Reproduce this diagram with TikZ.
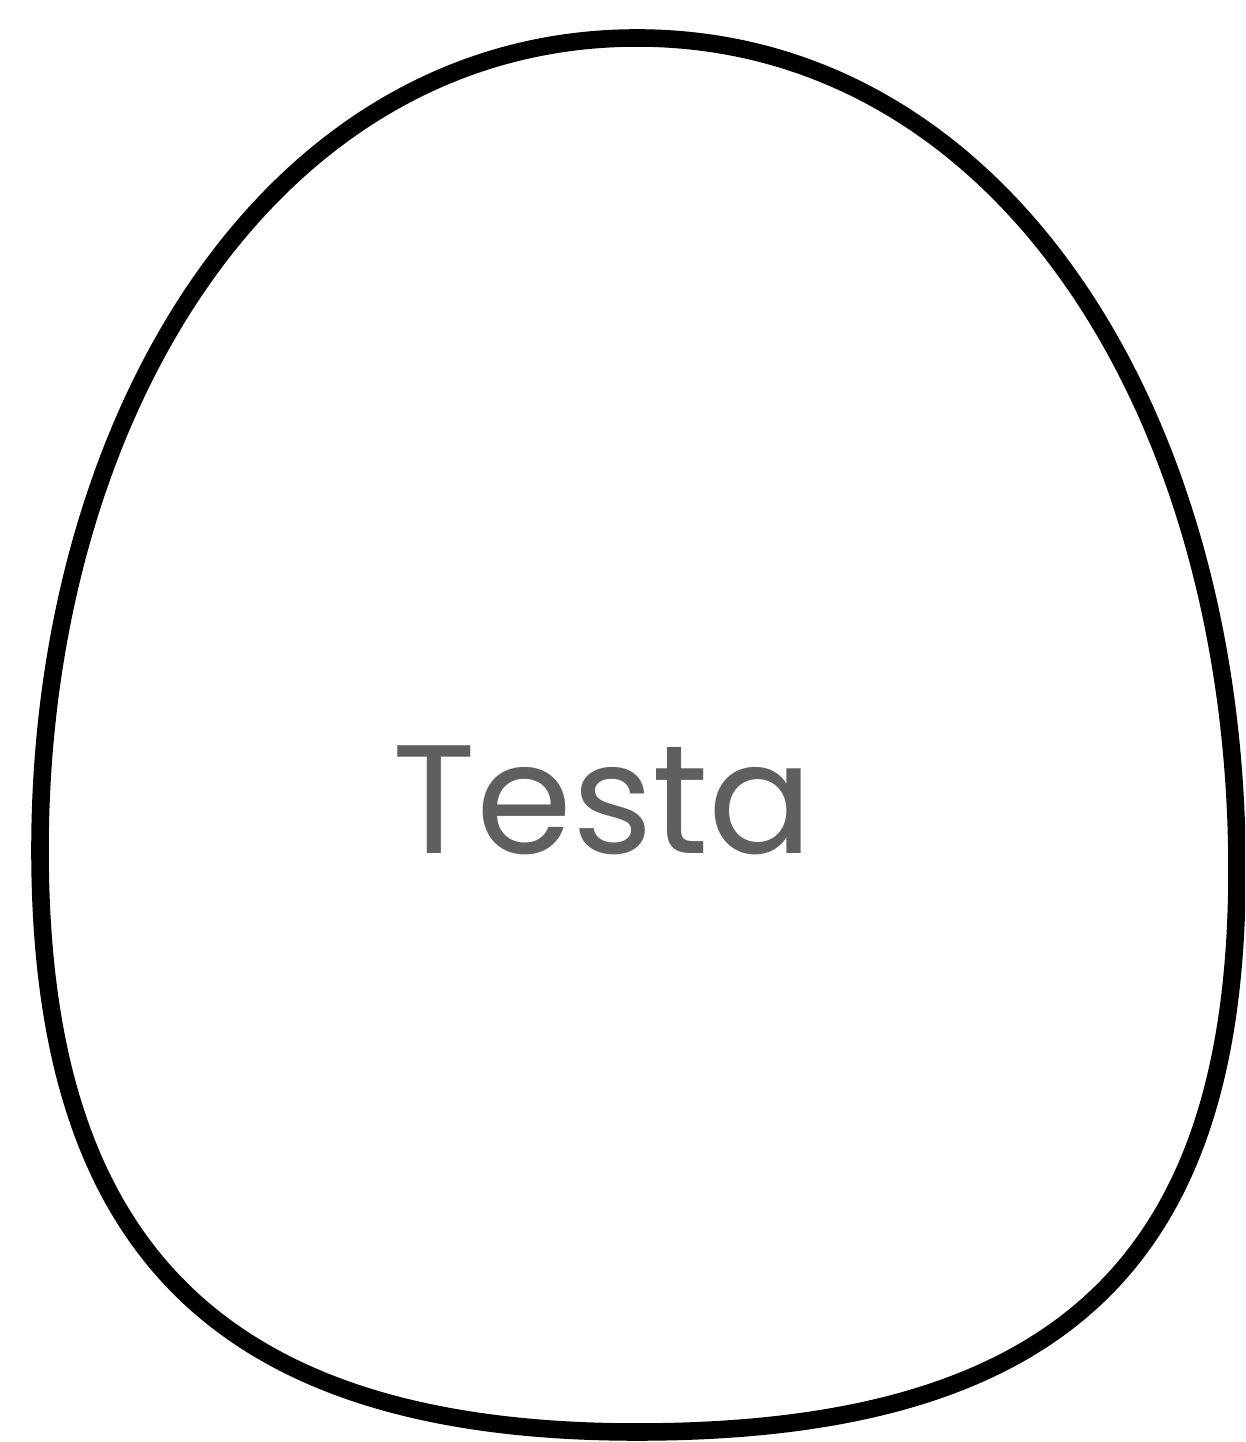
\documentclass[tikz,border=0pt]{standalone}
\usepackage{fontspec}
\setmainfont{Poppins}
\usepackage{tikz}
\definecolor{labelgray}{HTML}{5F5F5F}
\tikzset{
shell/.style={draw=black,line width=10pt},
label/.style={text=labelgray,font=\fontsize{88}{88}\selectfont,inner sep=0pt}
}

\begin{document}
\begin{tikzpicture}[x=0.02cm,y=0.02cm]
\useasboundingbox (0,0) rectangle (1245,1442);
\clip (0,0) rectangle (1245,1442);
\draw[shell] (637,1404) .. controls (1000,1404) and (1237,1031) .. (1237,572)
  .. controls (1237,190) and (1070,10) .. (637,10)
  .. controls (204,10) and (40,210) .. (40,592)
  .. controls (40,1031) and (274,1404) .. (637,1404) -- cycle;
\node[label] (testa) at (603,642) {Testa};
\end{tikzpicture}
\end{document}
